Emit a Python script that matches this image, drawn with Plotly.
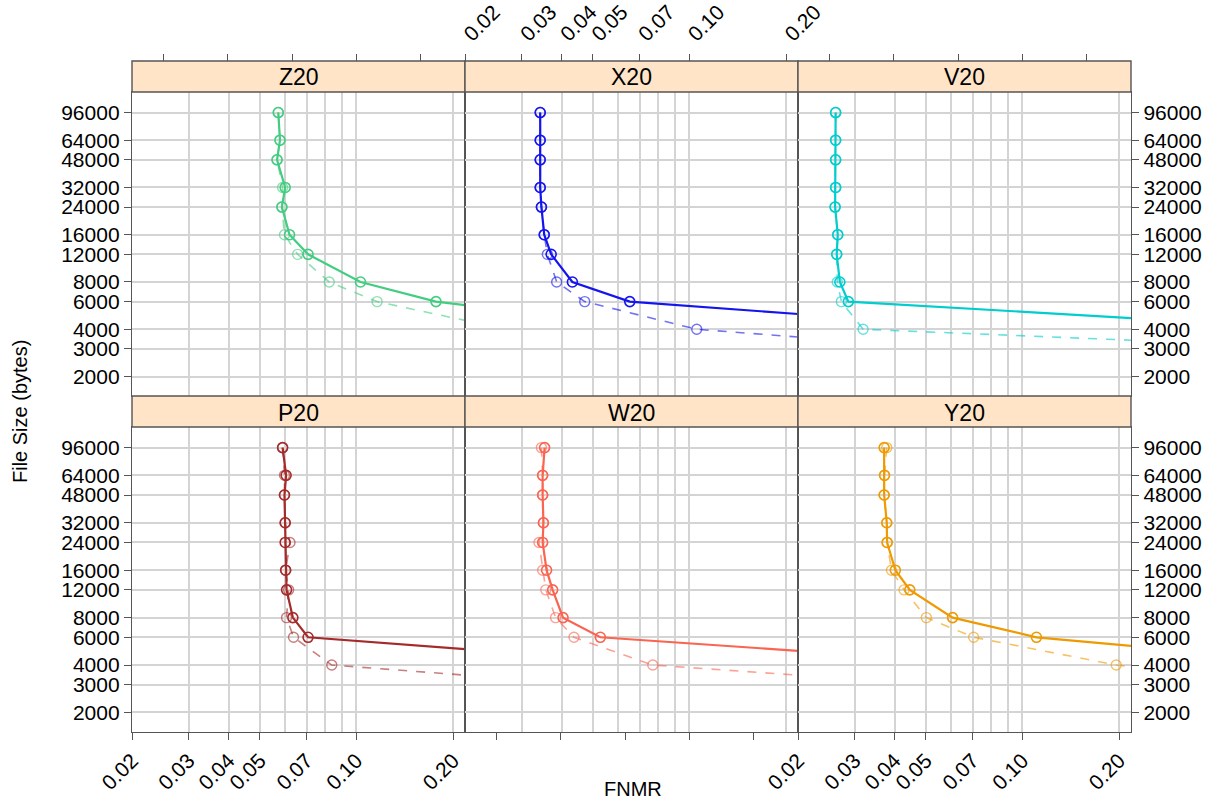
import math
import plotly.graph_objects as go

# ---------------- data ----------------
panels = ["Z20", "X20", "V20", "P20", "W20", "Y20"]
sizes = [96000, 64000, 48000, 32000, 24000, 16000, 12000, 8000, 6000, 4000, 3000]

z20_solid = [0.0571, 0.0578, 0.0566, 0.0600, 0.0586, 0.0619, 0.0707, 0.103, 0.177, 0.95]
z20_dashed = [0.0571, 0.0578, 0.0566, 0.0589, 0.0586, 0.0597, 0.0656, 0.0823, 0.116, 0.293, 0.80]
x20_solid = [0.0343, 0.0343, 0.0343, 0.0343, 0.0346, 0.0353, 0.0371, 0.0432, 0.0652, 0.96]
x20_dashed = [0.0343, 0.0343, 0.0343, 0.0343, 0.0346, 0.0353, 0.0361, 0.0386, 0.0472, 0.1054, 0.66]
v20_solid = [0.0262, 0.0262, 0.0262, 0.0262, 0.0261, 0.0266, 0.0264, 0.0270, 0.0287, 0.86]
v20_dashed = [0.0262, 0.0262, 0.0262, 0.0262, 0.0261, 0.0266, 0.0264, 0.0265, 0.0273, 0.0319, 1.0]
p20_solid = [0.0589, 0.0604, 0.0597, 0.0600, 0.0600, 0.0602, 0.0606, 0.0634, 0.0707, 0.98]
p20_dashed = [0.0589, 0.0597, 0.0597, 0.0600, 0.0621, 0.0602, 0.0615, 0.0606, 0.0637, 0.0838, 0.54]
w20_solid = [0.0354, 0.0349, 0.0349, 0.0351, 0.0349, 0.0359, 0.0375, 0.0404, 0.0528, 0.96]
w20_dashed = [0.0346, 0.0349, 0.0349, 0.0351, 0.0340, 0.0349, 0.0357, 0.0383, 0.0437, 0.0769, 0.59]
y20_solid = [0.0371, 0.0372, 0.0371, 0.0378, 0.0379, 0.0402, 0.0446, 0.0606, 0.1106, 1.0]
y20_dashed = [0.0378, 0.0372, 0.0371, 0.0378, 0.0379, 0.0391, 0.0428, 0.0502, 0.0705, 0.196, 0.70]

solid_series = [z20_solid, x20_solid, v20_solid, p20_solid, w20_solid, y20_solid]
dashed_series = [z20_dashed, x20_dashed, v20_dashed, p20_dashed, w20_dashed, y20_dashed]
panel_colors = [(67, 205, 128), (20, 20, 238), (0, 205, 205), (165, 42, 42), (250, 100, 80), (238, 154, 0)]

x_label_vals = [0.02, 0.03, 0.04, 0.05, 0.07, 0.10, 0.20]
x_label_text = ["0.02", "0.03", "0.04", "0.05", "0.07", "0.10", "0.20"]
x_grid_vals = [0.02, 0.03, 0.04, 0.05, 0.06, 0.07, 0.08, 0.09, 0.10, 0.20]
x_plain_ticks = [10 ** -1.6, 10 ** -1.4, 10 ** -1.2, 10 ** -1.0, 10 ** -0.8]
y_tick_vals = [2000, 3000, 4000, 6000, 8000, 12000, 16000, 24000, 32000, 48000, 64000, 96000]
y_tick_text = [str(v) for v in y_tick_vals]

# ---------------- layout geometry ----------------
W, H = 1217, 803
col_px = [(132, 465), (465, 798), (798, 1131)]
row_plot_px = [(92, 396), (427, 732)]
row_strip_px = [(61, 92), (396, 427)]
x_range = [math.log10(0.02), math.log10(0.2179)]
y_range = [3.177, 5.113]

FONT = "Liberation Sans, Arial, Helvetica, sans-serif"
GRID = "#d4d4d4"
FRAME = "#555555"
STRIP = "#FFE4C8"
TICKFONT = dict(family=FONT, size=21, color="black")

def px_x(p):
    return p / W

def px_y(p):
    return 1 - p / H

fig = go.Figure()
layout = dict(
    width=W, height=H,
    margin=dict(l=0, r=0, t=0, b=0, autoexpand=False),
    paper_bgcolor="white", plot_bgcolor="white",
    showlegend=False,
    font=dict(family=FONT, size=20, color="black"),
)
shapes = []
annotations = []
extra_axis = 7

for k, name in enumerate(panels):
    r, c = divmod(k, 3)
    rgb = panel_colors[k]
    solid_col = "rgb(%d,%d,%d)" % rgb
    dash_col = "rgba(%d,%d,%d,0.6)" % rgb
    xa, ya = "x%d" % (k + 1), "y%d" % (k + 1)
    solid = solid_series[k]
    dashed = dashed_series[k]
    fig.add_trace(go.Scatter(
        x=dashed, y=sizes[:len(dashed)], mode="lines+markers", xaxis=xa, yaxis=ya,
        line=dict(color=dash_col, width=1.6, dash="dash"),
        marker=dict(symbol="circle-open", size=10, color=dash_col, line=dict(width=1.4)),
        hoverinfo="skip"))
    fig.add_trace(go.Scatter(
        x=solid, y=sizes[:len(solid)], mode="lines+markers", xaxis=xa, yaxis=ya,
        line=dict(color=solid_col, width=2.2),
        marker=dict(symbol="circle-open", size=10, color=solid_col, line=dict(width=1.6)),
        hoverinfo="skip"))

    x0, x1 = col_px[c]
    y0, y1 = row_plot_px[r]
    xdom = [px_x(x0), px_x(x1)]
    ydom = [px_y(y1), px_y(y0)]

    xaxis = dict(
        type="log", range=x_range, domain=xdom, anchor=ya, side="bottom",
        automargin=False,
        showline=True, mirror=True, linecolor=FRAME, linewidth=1.4,
        showgrid=False, zeroline=False,
        tickmode="array",
        minor=dict(tickmode="array", tickvals=x_grid_vals, showgrid=True,
                   gridcolor=GRID, gridwidth=1.5, ticks=""),
        ticks="", showticklabels=False,
        tickfont=TICKFONT,
        tickcolor=FRAME, ticklen=7, tickangle=-45,
    )
    if r == 1:
        if c in (0, 2):
            xaxis.update(tickvals=x_label_vals, ticktext=x_label_text, ticks="outside",
                         showticklabels=True)
        else:
            xaxis.update(tickvals=x_plain_ticks, ticktext=[""] * 5, ticks="outside")
    else:
        xaxis.update(tickvals=x_label_vals, ticktext=[""] * len(x_label_vals))
        top = dict(
            type="log", range=x_range, overlaying=xa, anchor="free",
            position=px_y(row_strip_px[0][0]), side="top", automargin=False,
            showline=False, showgrid=False, zeroline=False,
            tickmode="array", ticks="outside", tickcolor=FRAME, ticklen=7,
            tickangle=-45, tickfont=TICKFONT,
        )
        if c == 1:
            top.update(tickvals=x_label_vals, ticktext=x_label_text, showticklabels=True)
        else:
            top.update(tickvals=x_plain_ticks, ticktext=[""] * 5, showticklabels=False)
        layout["xaxis%d" % extra_axis] = top
        fig.add_trace(go.Scatter(x=[], y=[], xaxis="x%d" % extra_axis, yaxis=ya,
                                 mode="markers", hoverinfo="skip"))
        extra_axis += 1
    layout["xaxis%d" % (k + 1)] = xaxis

    yaxis = dict(
        type="log", range=y_range, domain=ydom, anchor=xa, automargin=False,
        showline=True, mirror=True, linecolor=FRAME, linewidth=1.4,
        showgrid=True, gridcolor=GRID, gridwidth=1.5, zeroline=False,
        tickmode="array", tickvals=y_tick_vals, ticktext=y_tick_text,
        tickfont=TICKFONT,
        tickcolor=FRAME, ticklen=7,
    )
    if c == 0:
        yaxis.update(side="left", ticks="outside", showticklabels=True)
    elif c == 2:
        yaxis.update(side="right", ticks="outside", showticklabels=True)
    else:
        yaxis.update(ticks="", showticklabels=False)
    layout["yaxis%d" % (k + 1)] = yaxis

    s0, s1 = row_strip_px[r]
    shapes.append(dict(type="rect", xref="paper", yref="paper",
                       x0=px_x(x0), x1=px_x(x1), y0=px_y(s1), y1=px_y(s0),
                       fillcolor=STRIP, line=dict(color=FRAME, width=1.4), layer="above"))
    annotations.append(dict(text=name, xref="paper", yref="paper",
                            x=px_x((x0 + x1) / 2), y=px_y((s0 + s1) / 2 + 1),
                            showarrow=False, xanchor="center", yanchor="middle",
                            font=dict(family=FONT, size=23, color="black")))

annotations.append(dict(text="FNMR", xref="paper", yref="paper", x=px_x(633), y=px_y(789),
                        showarrow=False, xanchor="center", yanchor="middle",
                        font=dict(family=FONT, size=20, color="black")))
annotations.append(dict(text="File Size (bytes)", xref="paper", yref="paper", x=px_x(20),
                        y=px_y(412), showarrow=False, textangle=-90,
                        xanchor="center", yanchor="middle",
                        font=dict(family=FONT, size=20, color="black")))

layout["shapes"] = shapes
layout["annotations"] = annotations
fig.update_layout(**layout)
fig.write_html("out.html", config={"displayModeBar": False},
               post_script="document.body.style.margin='0px';")
